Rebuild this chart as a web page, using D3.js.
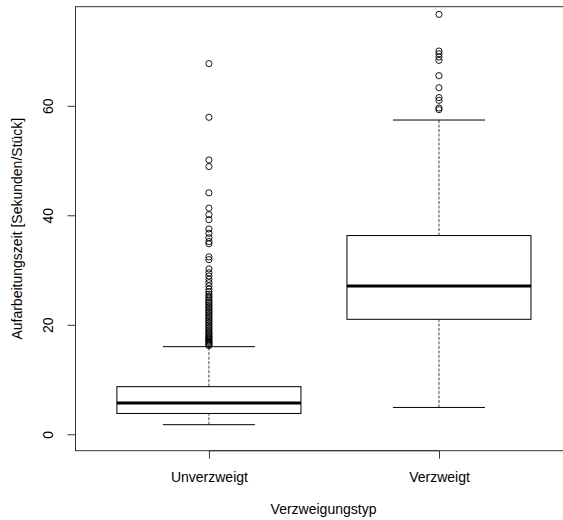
<!DOCTYPE html>
<html>
<head>
<meta charset="utf-8">
<script src="https://cdn.jsdelivr.net/npm/d3@7"></script>
<style>
  html, body { margin: 0; padding: 0; background: #fff; }
  svg { display: block; font-family: "Liberation Sans", Arial, sans-serif; }
</style>
</head>
<body>
<svg id="chart" width="563" height="520"></svg>
<script>
// Categories and five-number summaries (lower whisker, Q1, median, Q3, upper whisker)
const categories = ["Unverzweigt", "Verzweigt"];
const lowerWhisker = [1.75, 4.9];
const q1 = [3.8, 21.0];
const median = [5.7, 27.1];
const q3 = [8.7, 36.3];
const upperWhisker = [16.0, 57.4];

// Outlying observations per category
const outliersUnverzweigt = [
  67.7, 57.9, 50.1, 48.9, 44.1, 41.3, 40.1, 39.2, 37.5, 36.7, 35.9, 35.2, 34.8,
  32.4, 31.9, 30.2, 29.5, 28.9, 28.3, 27.7, 27.1, 26.5, 26.0, 25.6, 25.2, 24.9,
  24.5, 24.2, 23.9, 23.6, 23.3, 23.0, 22.7, 22.4, 22.1, 21.8, 21.5, 21.2, 20.9,
  20.6, 20.3, 20.0, 19.7, 19.4, 19.1, 18.8, 18.5, 18.3, 18.0, 17.8, 17.6, 17.4,
  17.2, 17.0, 16.8, 16.6, 16.4, 16.2
];
const outliersVerzweigt = [76.7, 70.0, 69.5, 68.9, 68.3, 65.5, 63.3, 61.5, 61.0, 59.6, 59.3];

const yTicks = [0, 20, 40, 60];
const yTitle = "Aufarbeitungszeit [Sekunden/Stück]";
const xTitle = "Verzweigungstyp";
const fontSize = 14;

const svg = d3.select("#chart");
svg.append("rect").attr("width", 563).attr("height", 520).attr("fill", "#fff");

// Plot region (R-style: x range 0.5..2.5 padded by 4%)
const plotLeft = 75.5, plotRight = 572.4, plotTop = 6.7, plotBottom = 450.7;
const x = d3.scaleLinear().domain([0.42, 2.58]).range([plotLeft, plotRight]);
const y = d3.scaleLinear().domain([-3.0, 78.1]).range([plotBottom, plotTop]);
const unit = x(1) - x(0);
const boxW = 0.8 * unit, capW = 0.4 * unit;

const g = svg.append("g");

categories.forEach((c, i) => {
  const cx = x(i + 1);
  // dashed whiskers
  [[lowerWhisker[i], q1[i]], [q3[i], upperWhisker[i]]].forEach(([a, b]) => {
    g.append("line")
      .attr("x1", cx).attr("x2", cx)
      .attr("y1", y(a)).attr("y2", y(b))
      .attr("stroke", "#444").attr("stroke-width", 1)
      .attr("stroke-dasharray", "3,1.5");
  });
  // whisker caps
  [lowerWhisker[i], upperWhisker[i]].forEach(v => {
    g.append("line")
      .attr("x1", cx - capW / 2).attr("x2", cx + capW / 2)
      .attr("y1", y(v)).attr("y2", y(v))
      .attr("stroke", "#000").attr("stroke-width", 1);
  });
  // box
  g.append("rect")
    .attr("x", cx - boxW / 2).attr("width", boxW)
    .attr("y", y(q3[i])).attr("height", y(q1[i]) - y(q3[i]))
    .attr("fill", "none").attr("stroke", "#000").attr("stroke-width", 1);
  // median
  g.append("line")
    .attr("x1", cx - boxW / 2).attr("x2", cx + boxW / 2)
    .attr("y1", y(median[i])).attr("y2", y(median[i]))
    .attr("stroke", "#000").attr("stroke-width", 3);
});

// outlier points
[outliersUnverzweigt, outliersVerzweigt].forEach((arr, i) => {
  g.selectAll(null).data(arr).enter().append("circle")
    .attr("cx", x(i + 1)).attr("cy", d => y(d)).attr("r", 3.1)
    .attr("fill", "none").attr("stroke", "#000").attr("stroke-width", 0.9);
});

// plot frame
svg.append("rect")
  .attr("x", plotLeft).attr("y", plotTop)
  .attr("width", plotRight - plotLeft).attr("height", plotBottom - plotTop)
  .attr("fill", "none").attr("stroke", "#333").attr("stroke-width", 1);

// y axis
const yAxis = svg.append("g").attr("transform", `translate(${plotLeft},0)`)
  .call(d3.axisLeft(y).tickValues(yTicks).tickSize(8).tickPadding(0));
yAxis.select(".domain")
  .attr("d", `M0,${y(yTicks[0])}V${y(yTicks[yTicks.length - 1])}`)
  .attr("stroke", "#333");
yAxis.selectAll(".tick line").attr("stroke", "#333");
yAxis.selectAll(".tick text")
  .attr("x", 0).attr("dy", null)
  .attr("transform", "translate(-22.5,0) rotate(-90)")
  .attr("text-anchor", "middle")
  .attr("font-size", fontSize).attr("font-family", "Liberation Sans, Arial, sans-serif")
  .attr("fill", "#000");

// x axis
const xAxis = svg.append("g").attr("transform", `translate(0,${plotBottom})`)
  .call(d3.axisBottom(x).tickValues([1, 2]).tickFormat((d) => categories[d - 1]).tickSize(8).tickPadding(0));
xAxis.select(".domain")
  .attr("d", `M${x(1)},0H${x(2)}`).attr("stroke", "#333");
xAxis.selectAll(".tick line").attr("stroke", "#333");
xAxis.selectAll(".tick text")
  .attr("y", 31.5).attr("dy", null)
  .attr("font-size", fontSize).attr("font-family", "Liberation Sans, Arial, sans-serif")
  .attr("fill", "#000");

// axis titles
svg.append("text")
  .attr("x", 323.5).attr("y", 514)
  .attr("text-anchor", "middle").attr("font-size", fontSize).attr("fill", "#000")
  .text(xTitle);
svg.append("text")
  .attr("transform", `translate(21.5,${(plotTop + plotBottom) / 2}) rotate(-90)`)
  .attr("text-anchor", "middle").attr("font-size", fontSize).attr("fill", "#000")
  .text(yTitle);
</script>
</body>
</html>
